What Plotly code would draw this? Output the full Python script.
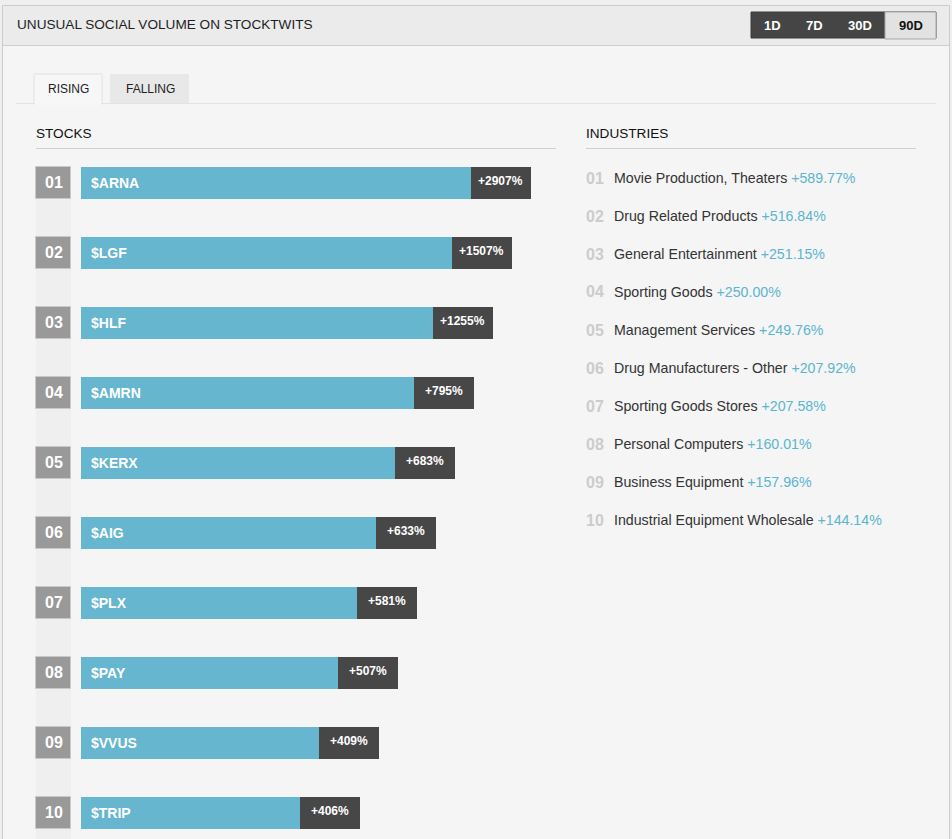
import plotly.graph_objects as go

# ---------------- data ----------------
ranks = ["01", "02", "03", "04", "05", "06", "07", "08", "09", "10"]
tickers = ["$ARNA", "$LGF", "$HLF", "$AMRN", "$KERX", "$AIG", "$PLX", "$PAY", "$VVUS", "$TRIP"]
changes = ["+2907%", "+1507%", "+1255%", "+795%", "+683%", "+633%", "+581%", "+507%", "+409%", "+406%"]
# displayed bar length, % of the stocks column width
bar_len = [94.7, 90.7, 86.7, 82.7, 78.7, 74.7, 70.7, 66.7, 62.7, 58.7]

industries = ["Movie Production, Theaters", "Drug Related Products", "General Entertainment",
              "Sporting Goods", "Management Services", "Drug Manufacturers - Other",
              "Sporting Goods Stores", "Personal Computers", "Business Equipment",
              "Industrial Equipment Wholesale"]
industry_changes = ["+589.77%", "+516.84%", "+251.15%", "+250.00%", "+249.76%", "+207.92%",
                    "+207.58%", "+160.01%", "+157.96%", "+144.14%"]
periods = ["1D", "7D", "30D", "90D"]
active_period = "90D"
tabs = ["RISING", "FALLING"]

# ---------------- layout helpers ----------------
W, H = 952, 839
FONT = "Arial, 'Liberation Sans', sans-serif"
def X(px): return px / W
def Y(py): return 1 - py / H

# x axis: px 81 -> 0, px 556 -> 100
PXU = 4.75
x_lo = -81 / PXU
x_hi = (W - 81) / PXU
# y axis: row index, row 0 centre at py 183, step 70 px
ROW0, STEP = 183, 70
y_top = (0 - ROW0) / STEP
y_bot = (H - ROW0) / STEP
rows = list(range(len(tickers)))
bw = 32 / STEP
dark_w = 60 / PXU
box_base = (36 - 81) / PXU
box_w = 35 / PXU

BLUE = "#66b6cf"
DARK = "#474747"

fig = go.Figure()
fig.add_trace(go.Bar(y=rows, x=[box_w] * len(rows), base=[box_base] * len(rows), orientation="h",
                     width=bw, marker=dict(color="#999999", line=dict(color="#c9c9c9", width=1)),
                     hoverinfo="skip", showlegend=False))
fig.add_trace(go.Bar(y=rows, x=[L - dark_w for L in bar_len], base=[0] * len(rows), orientation="h",
                     width=bw, marker=dict(color=BLUE, line=dict(width=0)),
                     hoverinfo="skip", showlegend=False))
fig.add_trace(go.Bar(y=rows, x=[dark_w] * len(rows), base=[L - dark_w for L in bar_len], orientation="h",
                     width=bw, marker=dict(color=DARK, line=dict(width=0)),
                     hoverinfo="skip", showlegend=False))

shapes = []
ann = []
def rect(x0, y0, x1, y1, fill, line=None, lw=1, layer="below"):
    shapes.append(dict(type="rect", xref="paper", yref="paper", x0=X(x0), x1=X(x1), y0=Y(y1), y1=Y(y0),
                       fillcolor=fill, line=dict(color=line or fill, width=lw if line else 0), layer=layer))
def hline(x0, x1, y, color, width=1):
    shapes.append(dict(type="line", xref="paper", yref="paper", x0=X(x0), x1=X(x1), y0=Y(y), y1=Y(y),
                       line=dict(color=color, width=width), layer="below"))
def text(x, y, s, size=13, color="#222", xanchor="left", bold=False):
    ann.append(dict(xref="paper", yref="paper", x=X(x), y=Y(y), text=(f"<b>{s}</b>" if bold else s),
                    showarrow=False, xanchor=xanchor, yanchor="middle",
                    font=dict(family=FONT, size=size, color=color)))

# panel
rect(2.5, 5.5, 949.5, 845, "#f5f5f5", "#cccccc")
rect(3, 6, 949, 45, "#ebebeb")
hline(3, 949, 45.5, "#cfcfcf")
text(15, 25, "UNUSUAL SOCIAL VOLUME ON STOCKTWITS", 13.6, "#1e1e1e")

# period buttons
rect(751, 12, 936, 38, "#454545", "#3a3a3a")
btn_x = {"1D": (751, 793), "7D": (793, 835), "30D": (835, 885), "90D": (885, 936)}
for p in periods:
    a, b = btn_x[p]
    if p == active_period:
        rect(a, 12, b, 39, "#e2e2e2", "#a9a9a9")
        text((a + b) / 2, 25.5, p, 13, "#111", "center", True)
    else:
        text((a + b) / 2, 25.5, p, 13, "#ffffff", "center", True)

# tabs
hline(16, 936, 103.5, "#e2e2e2")
tab_x = {"RISING": (34, 102), "FALLING": (110, 189)}
for i, t in enumerate(tabs):
    a, b = tab_x[t]
    if i == 0:
        rect(a, 74, b, 104, "#f7f7f7", "#e0e0e0")
        rect(a + 1, 102, b - 1, 105, "#f7f7f7")
    else:
        rect(a, 74, b, 103, "#e8e8e8")
    text((a + b) / 2 + 0.5, 89, t, 12, "#222", "center")

# section headers
text(34, 133, "STOCKS", 13.6, "#111")
hline(36, 556, 148.5, "#cfcfcf")
text(584, 133, "INDUSTRIES", 13.6, "#111")
hline(586, 916, 148.5, "#cfcfcf")

# light strip under rank boxes
rect(36, 199, 71, 845, "#efefef")

# stock labels
for r, rk, tk, ch, L in zip(rows, ranks, tickers, changes, bar_len):
    ann.append(dict(xref="x", yref="y", x=box_base + box_w / 2, y=r - 0.01, text=f"<b>{rk}</b>", showarrow=False,
                    xanchor="center", yanchor="middle", font=dict(family=FONT, size=16, color="white")))
    ann.append(dict(xref="x", yref="y", x=8 / PXU, y=r, text=f"<b>{tk}</b>", showarrow=False,
                    xanchor="left", yanchor="middle", font=dict(family=FONT, size=14, color="white")))
    ann.append(dict(xref="x", yref="y", x=L - dark_w / 2, y=r - 0.03, text=f"<b>{ch}</b>", showarrow=False,
                    xanchor="center", yanchor="middle", font=dict(family=FONT, size=12, color="white")))

# industries list
for i, (rk, name, ch) in enumerate(zip(ranks, industries, industry_changes)):
    yy = 178 + 38 * i
    text(584, yy, rk, 16, "#cccccc", "left", True)
    text(612, yy, f"{name} <span style='color:#5bb5d0'>{ch}</span>", 14.2, "#333333", "left")

fig.update_layout(
    width=W, height=H, autosize=False,
    margin=dict(l=0, r=0, t=0, b=0, pad=0),
    paper_bgcolor="#efefef", plot_bgcolor="rgba(0,0,0,0)",
    barmode="overlay", bargap=0,
    shapes=shapes, annotations=ann, showlegend=False,
    xaxis=dict(range=[x_lo, x_hi], domain=[0, 1], visible=False, fixedrange=True),
    yaxis=dict(range=[y_bot, y_top], domain=[0, 1], visible=False, fixedrange=True),
    font=dict(family=FONT),
)

fig.write_html("out.html", config={"displayModeBar": False})
